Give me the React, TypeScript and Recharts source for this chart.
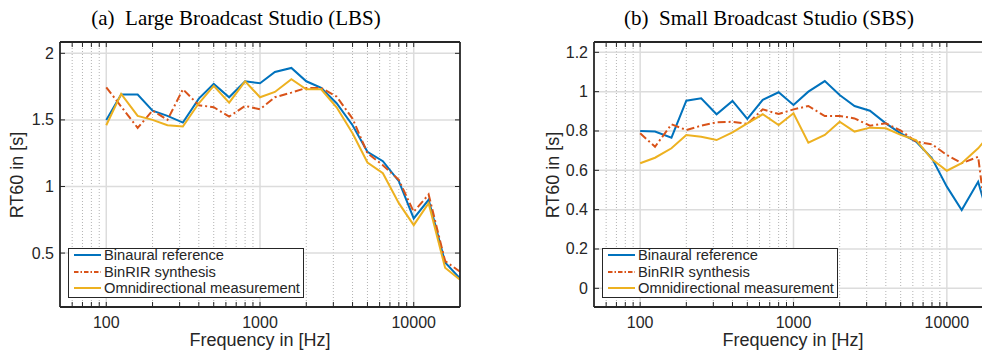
import React from 'react';
import { LineChart, Line, XAxis, YAxis, ReferenceLine } from 'recharts';

// 1/3-octave band centres (Hz)
const bands = [100, 125, 160, 200, 250, 315, 400, 500, 630, 800, 1000, 1250, 1600, 2000, 2500, 3150, 4000, 5000, 6300, 8000, 10000, 12500, 16000, 20000];

// (a) Large Broadcast Studio
const lbsBinaural = [1.5, 1.69, 1.69, 1.57, 1.53, 1.48, 1.66, 1.77, 1.67, 1.79, 1.775, 1.86, 1.89, 1.79, 1.74, 1.625, 1.46, 1.26, 1.19, 1.04, 0.76, 0.9, 0.43, 0.31];
const lbsBinRIR = [1.745, 1.6, 1.44, 1.57, 1.5, 1.73, 1.61, 1.595, 1.525, 1.605, 1.58, 1.67, 1.705, 1.74, 1.74, 1.675, 1.51, 1.25, 1.16, 1.05, 0.81, 0.94, 0.44, 0.36];
const lbsOmni = [1.46, 1.695, 1.53, 1.5, 1.46, 1.45, 1.625, 1.755, 1.63, 1.79, 1.67, 1.71, 1.805, 1.73, 1.73, 1.595, 1.4, 1.18, 1.1, 0.875, 0.71, 0.875, 0.39, 0.3];

// (b) Small Broadcast Studio
const sbsBinaural = [0.8, 0.797, 0.766, 0.954, 0.966, 0.885, 0.953, 0.861, 0.958, 0.997, 0.932, 1.0, 1.054, 0.983, 0.927, 0.903, 0.839, 0.788, 0.746, 0.661, 0.517, 0.398, 0.542, 0.28];
const sbsBinRIR = [0.788, 0.72, 0.834, 0.805, 0.827, 0.844, 0.847, 0.836, 0.91, 0.886, 0.91, 0.927, 0.876, 0.876, 0.864, 0.827, 0.839, 0.802, 0.746, 0.732, 0.678, 0.636, 0.669, 0.08];
const sbsOmni = [0.636, 0.664, 0.712, 0.78, 0.771, 0.754, 0.793, 0.839, 0.885, 0.83, 0.89, 0.741, 0.78, 0.847, 0.797, 0.817, 0.814, 0.78, 0.754, 0.656, 0.598, 0.636, 0.712, 0.8];

const majorX = [100, 1000, 10000];
const minorX = [60, 70, 80, 90, 200, 300, 400, 500, 600, 700, 800, 900, 2000, 3000, 4000, 5000, 6000, 7000, 8000, 9000];
const allX = [...minorX, ...majorX].sort((a, b) => a - b);
const lbsYTicks = [0.5, 1, 1.5, 2];
const sbsYTicks = [0, 0.2, 0.4, 0.6, 0.8, 1, 1.2];

const seriesNames = ['Binaural reference', 'BinRIR synthesis', 'Omnidirectional measurement'];

const BLUE = '#0072BD';
const ORANGE = '#D95319';
const YELLOW = '#EDB120';
const INK = '#262626';
const DASHDOT = '8 3 2 3';
const SANS = '"Liberation Sans", Arial, Helvetica, sans-serif';
const SERIF = '"Liberation Serif", "Times New Roman", serif';

const BottomTick = (p: any) => {
  const major = majorX.includes(p.payload.value);
  return (
    <g>
      <line x1={p.x} x2={p.x} y1={p.y} y2={p.y - 5} stroke={INK} strokeWidth={1} />
      {major && (
        <text x={p.x} y={p.y + 15} textAnchor="middle" dominantBaseline="central" fill={INK} fontSize={16} fontFamily={SANS}>
          {p.payload.value}
        </text>
      )}
    </g>
  );
};

const TopTick = (p: any) => (
  <line x1={p.x} x2={p.x} y1={p.y} y2={p.y + 5} stroke={INK} strokeWidth={1} />
);

const LeftTick = (p: any) => (
  <g>
    <line x1={p.x} x2={p.x + 5} y1={p.y} y2={p.y} stroke={INK} strokeWidth={1} />
    <text x={p.x - 6} y={p.y} textAnchor="end" dominantBaseline="central" fill={INK} fontSize={16} fontFamily={SANS}>
      {String(p.payload.value)}
    </text>
  </g>
);

const RightTick = (p: any) => (
  <line x1={p.x} x2={p.x - 5} y1={p.y} y2={p.y} stroke={INK} strokeWidth={1} />
);

type PanelProps = {
  a: number[];
  b: number[];
  c: number[];
  yDomain: [number, number];
  yTicks: number[];
  width: number;
  margin: { top: number; right: number; bottom: number; left: number };
};

function Panel({ a, b, c, yDomain, yTicks, width, margin }: PanelProps) {
  const data = bands.map((f, i) => ({ f, a: a[i], b: b[i], c: c[i] }));
  const axisLine = { stroke: INK, strokeWidth: 1.8 };
  return (
    <LineChart width={width} height={351} data={data} margin={margin}>
      <XAxis
        dataKey="f"
        type="number"
        scale="log"
        domain={[50, 20000]}
        allowDataOverflow
        ticks={allX}
        interval={0}
        height={30}
        tickSize={0}
        tickMargin={0}
        tickLine={false}
        tick={BottomTick}
        axisLine={axisLine}
      />
      <XAxis
        xAxisId="top"
        orientation="top"
        dataKey="f"
        type="number"
        scale="log"
        domain={[50, 20000]}
        allowDataOverflow
        ticks={allX}
        interval={0}
        height={1}
        tickSize={0}
        tickMargin={0}
        tickLine={false}
        tick={TopTick}
        axisLine={axisLine}
      />
      <YAxis
        type="number"
        domain={yDomain}
        allowDataOverflow
        ticks={yTicks}
        interval={0}
        width={40}
        tickSize={0}
        tickMargin={0}
        tickLine={false}
        tick={LeftTick}
        axisLine={axisLine}
      />
      <YAxis
        yAxisId="r"
        orientation="right"
        type="number"
        domain={yDomain}
        allowDataOverflow
        ticks={yTicks}
        interval={0}
        width={1}
        tickSize={0}
        tickMargin={0}
        tickLine={false}
        tick={RightTick}
        axisLine={axisLine}
      />
      {minorX.map((v) => (
        <ReferenceLine key={'mx' + v} x={v} stroke="#b3b3b3" strokeWidth={1} strokeDasharray="1 2" />
      ))}
      {majorX.map((v) => (
        <ReferenceLine key={'MX' + v} x={v} stroke="#dcdcdc" strokeWidth={1.5} />
      ))}
      {yTicks.map((v) => (
        <ReferenceLine key={'y' + v} y={v} stroke="#dcdcdc" strokeWidth={1.5} />
      ))}
      <Line dataKey="a" stroke={BLUE} strokeWidth={2} dot={false} isAnimationActive={false} />
      <Line dataKey="b" stroke={ORANGE} strokeWidth={2} strokeDasharray={DASHDOT} dot={false} isAnimationActive={false} />
      <Line dataKey="c" stroke={YELLOW} strokeWidth={2} dot={false} isAnimationActive={false} />
    </LineChart>
  );
}

function LegendBox({ left, top }: { left: number; top: number }) {
  const colors = [BLUE, ORANGE, YELLOW];
  return (
    <div
      style={{
        position: 'absolute',
        left,
        top,
        width: 236,
        height: 50,
        boxSizing: 'border-box',
        border: `1.8px solid ${INK}`,
        background: '#fff',
        fontFamily: SANS,
        fontSize: 14.7,
        color: INK,
      }}
    >
      {seriesNames.map((name, i) => (
        <div key={name} style={{ position: 'absolute', left: 4, top: -2 + i * 16.5, height: 16, display: 'flex', alignItems: 'center', whiteSpace: 'nowrap' }}>
          <svg width={30} height={16}>
            <line x1={1} x2={28} y1={8} y2={8} stroke={colors[i]} strokeWidth={2} strokeDasharray={i === 1 ? '4.5 2 1.5 2' : undefined} />
          </svg>
          <span style={{ marginLeft: 1 }}>{name}</span>
        </div>
      ))}
    </div>
  );
}

const textStyle: React.CSSProperties = { position: 'absolute', whiteSpace: 'nowrap', color: INK };

export default function App() {
  return (
    <div style={{ position: 'absolute', left: 0, top: 0, width: 982, height: 351, overflow: 'hidden', background: '#fff' }}>
      <div style={{ position: 'absolute', left: 0, top: 0 }}>
        <Panel a={lbsBinaural} b={lbsBinRIR} c={lbsOmni} yDomain={[0.095, 2.085]} yTicks={lbsYTicks} width={491} margin={{ top: 41, right: 30, bottom: 14, left: 20 }} />
      </div>
      <div style={{ position: 'absolute', left: 491, top: 0 }}>
        <Panel a={sbsBinaural} b={sbsBinRIR} c={sbsOmni} yDomain={[-0.095, 1.2525]} yTicks={sbsYTicks} width={520} margin={{ top: 41, right: 17, bottom: 14, left: 63 }} />
      </div>

      <LegendBox left={68} top={248} />
      <LegendBox left={602} top={248} />

      <div style={{ ...textStyle, left: 236, top: 18, transform: 'translate(-50%, -50%)', fontFamily: SERIF, fontSize: 21, color: '#000' }}>
        (a)&nbsp; Large Broadcast Studio (LBS)
      </div>
      <div style={{ ...textStyle, left: 769, top: 18, transform: 'translate(-50%, -50%)', fontFamily: SERIF, fontSize: 21, color: '#000' }}>
        (b)&nbsp; Small Broadcast Studio (SBS)
      </div>

      <div style={{ ...textStyle, left: 260, top: 340, transform: 'translate(-50%, -50%)', fontFamily: SANS, fontSize: 18 }}>Frequency in [Hz]</div>
      <div style={{ ...textStyle, left: 793, top: 340, transform: 'translate(-50%, -50%)', fontFamily: SANS, fontSize: 18 }}>Frequency in [Hz]</div>

      <div style={{ ...textStyle, left: 17, top: 175, transform: 'translate(-50%, -50%) rotate(-90deg)', fontFamily: SANS, fontSize: 18 }}>RT60 in [s]</div>
      <div style={{ ...textStyle, left: 553, top: 175, transform: 'translate(-50%, -50%) rotate(-90deg)', fontFamily: SANS, fontSize: 18 }}>RT60 in [s]</div>
    </div>
  );
}
